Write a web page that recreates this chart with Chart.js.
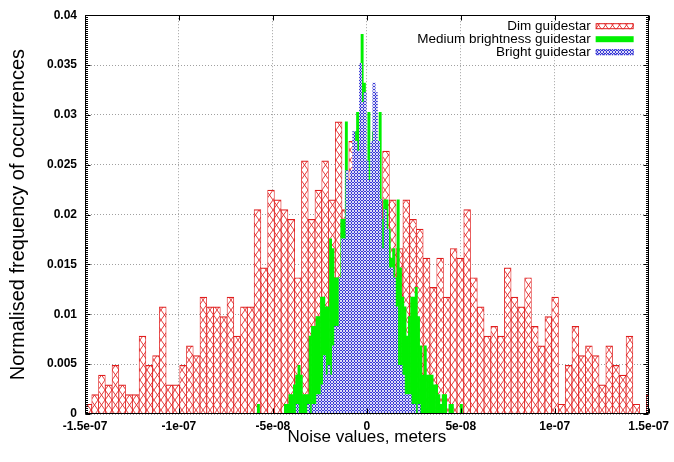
<!DOCTYPE html>
<html>
<head>
<meta charset="utf-8">
<script src="https://cdn.jsdelivr.net/npm/chart.js@4/dist/chart.umd.min.js"></script>
<style>
  html, body { margin: 0; padding: 0; background: #fff; }
</style>
</head>
<body>
<canvas id="noiseChart" width="674" height="462"></canvas>
<script>
// Histogram bins: first bin edge and bin width, in metres
const dimBinStart = -1.5e-7;
const dimBinWidth = 3.6e-9;
const mediumBinStart = -5.83e-8;
const mediumBinWidth = 1.2e-9;
const brightBinStart = -3.757e-8;
const brightBinWidth = 1.2e-9;

// Normalised frequency per bin
const dimFreq = [
  0.00098, 0.00195, 0.00391, 0.00293, 0.00488, 0.00293, 0.00195, 0.00195, 0.00781, 0.00488,
  0.00586, 0.01074, 0.00293, 0.00293, 0.00488, 0.00684, 0.00586, 0.01172, 0.01074, 0.01074,
  0.00977, 0.01172, 0.00781, 0.01074, 0.01074, 0.02051, 0.01465, 0.02246, 0.02148, 0.02051,
  0.01953, 0.01367, 0.02539, 0.01953, 0.02246, 0.02539, 0.02148, 0.0293, 0.02051, 0.02734,
  0.02148, 0.02441, 0.02051, 0.02148, 0.02637, 0.02148, 0.0166, 0.02148, 0.01953, 0.01855,
  0.01563, 0.0127, 0.01563, 0.01172, 0.0166, 0.01563, 0.02051, 0.01367, 0.01074, 0.00781,
  0.00879, 0.00781, 0.01465, 0.01172, 0.01074, 0.01367, 0.00879, 0.00684, 0.00977, 0.01172,
  0.00098, 0.00488, 0.00879, 0.00586, 0.00684, 0.00586, 0.00293, 0.00684, 0.00488, 0.00391,
  0.00781, 0.00098, 0, 0.00195
];
const mediumFreq = [
  0.00098, 0, 0, 0, 0, 0, 0, 0, 0, 0,
  0, 0, 0.00098, 0.00098, 0.00195, 0.00195, 0.00293, 0.00391, 0.00488, 0.00391,
  0.00195, 0.00195, 0.00195, 0.00781, 0.00879, 0.00879, 0.00977, 0.00977, 0.01172, 0.01172,
  0.01074, 0.01074, 0.01758, 0.0166, 0.01367, 0.01367, 0.01367, 0.01953, 0.01953, 0.0293,
  0.0166, 0.02051, 0.02246, 0.02832, 0.03027, 0.03027, 0.03809, 0.0332, 0.02539, 0.03027,
  0.02344, 0.02832, 0.02148, 0.02344, 0.03027, 0.01953, 0.02148, 0.02148, 0.01855, 0.01563,
  0.0166, 0.01367, 0.02148, 0.01465, 0.01172, 0.01074, 0.00781, 0.00977, 0.01172, 0.01172,
  0.0127, 0.00977, 0.00684, 0.00391, 0.00684, 0.00391, 0.00391, 0.00391, 0.00293, 0.00293,
  0.00195, 0.00098, 0.00195, 0.00195, 0, 0.00098, 0.00098, 0, 0, 0,
  0.00098, 0
];
const brightFreq = [
  0.00098, 0, 0, 0, 0, 0.00098, 0, 0.00098, 0.00098, 0.00195,
  0.00195, 0.00293, 0.00586, 0.00391, 0.00488, 0.00391, 0.00684, 0.00879, 0.00879, 0.01367,
  0.01758, 0.01758, 0.02441, 0.02344, 0.02441, 0.02832, 0.02734, 0.02637, 0.03516, 0.03125,
  0.03223, 0.02539, 0.02344, 0.02734, 0.0332, 0.03223, 0.02734, 0.02148, 0.0166, 0.02051,
  0.01855, 0.01465, 0.01465, 0.01367, 0.01074, 0.00488, 0.00488, 0.00391, 0.00195, 0.00195,
  0.00195, 0.00098, 0.00098, 0, 0.00098
];

const seriesLabels = ['Dim guidestar', 'Medium brightness guidestar', 'Bright guidestar'];
const xTicks = [-1.5e-7, -1e-7, -5e-8, 0, 5e-8, 1e-7, 1.5e-7];
const xTickLabels = ['-1.5e-07', '-1e-07', '-5e-08', '0', '5e-08', '1e-07', '1.5e-07'];
const yTicks = [0, 0.005, 0.01, 0.015, 0.02, 0.025, 0.03, 0.035, 0.04];
const yTickLabels = ['0', '0.005', '0.01', '0.015', '0.02', '0.025', '0.03', '0.035', '0.04'];

const X_MIN = -1.5e-7, X_MAX = 1.5e-7;
const Y_MIN = 0, Y_MAX = 0.04;
const FONT = '"Liberation Sans", Arial, Helvetica, sans-serif';

// bar centres from bin edges
function binPoints(start, width, freq) {
  return freq.map((f, i) => ({ x: start + (i + 0.5) * width, y: f }));
}

// red cross-hatch fill
function hatchPattern() {
  const c = document.createElement('canvas');
  c.width = 7; c.height = 10;
  const g = c.getContext('2d');
  g.fillStyle = '#fff';
  g.fillRect(0, 0, 7, 10);
  g.strokeStyle = 'rgba(226,40,40,0.9)';
  g.lineWidth = 1;
  g.beginPath();
  g.moveTo(0, 0); g.lineTo(7, 10);
  g.moveTo(7, 0); g.lineTo(0, 10);
  g.stroke();
  return g.createPattern(c, 'repeat');
}

// blue dotted fill
function dotPattern() {
  const c = document.createElement('canvas');
  c.width = 3; c.height = 3;
  const g = c.getContext('2d');
  g.fillStyle = '#dcdcf6';
  g.fillRect(0, 0, 3, 3);
  g.fillStyle = '#3838d6';
  g.fillRect(0, 0, 1, 2);
  g.fillRect(1, 2, 2, 1);
  return g.createPattern(c, 'repeat');
}

const hatch = hatchPattern();
const dots = dotPattern();

// border box with inward tics, drawn over the bars
const framePlugin = {
  id: 'frame',
  afterDatasetsDraw(chart) {
    const { ctx, chartArea: a, scales } = chart;
    const L = Math.round(a.left) + 0.5, R = Math.round(a.right) - 0.5;
    const T = Math.round(a.top) + 0.5, B = Math.round(a.bottom) - 0.5;
    ctx.save();
    ctx.strokeStyle = '#000';
    ctx.lineWidth = 1;
    ctx.beginPath();
    ctx.rect(L, T, R - L, B - T);
    xTicks.forEach(v => {
      const px = Math.round(scales.x.getPixelForValue(v)) + 0.5;
      ctx.moveTo(px, B); ctx.lineTo(px, B - 5);
      ctx.moveTo(px, T); ctx.lineTo(px, T + 5);
    });
    for (let i = 0; i <= 200; i++) {
      const py = Math.round(scales.y.getPixelForValue(i * 0.0002)) + 0.5;
      const len = i % 25 === 0 ? 5 : 2.5;
      ctx.moveTo(L, py); ctx.lineTo(L + len, py);
      ctx.moveTo(R, py); ctx.lineTo(R - len, py);
    }
    ctx.stroke();
    ctx.restore();
  }
};

// key in the top right corner: label, then sample box
const keyPlugin = {
  id: 'key',
  afterDraw(chart) {
    const { ctx, chartArea: a } = chart;
    const boxW = 38, boxH = 6;
    const boxX = a.right - 15 - boxW;
    ctx.save();
    ctx.font = '13.5px ' + FONT;
    ctx.textAlign = 'right';
    ctx.textBaseline = 'middle';
    chart.data.datasets.forEach((ds, i) => {
      const cy = a.top + 11 + i * 13;
      ctx.fillStyle = '#000';
      ctx.fillText(ds.label, boxX - 5, cy);
      ctx.fillStyle = ds.backgroundColor;
      ctx.fillRect(boxX, cy - boxH / 2, boxW, boxH);
      if (ds.keyBorder) {
        ctx.strokeStyle = ds.borderColor;
        ctx.lineWidth = 1;
        ctx.setLineDash(ds.keyBorder);
        ctx.strokeRect(boxX + 0.5, cy - boxH / 2 + 0.5, boxW - 1, boxH - 1);
        ctx.setLineDash([]);
      }
    });
    ctx.restore();
  }
};

const tickFont = { family: FONT, size: 12, weight: 'bold' };

function hiddenX() {
  return { type: 'linear', display: false, min: X_MIN, max: X_MAX, offset: false };
}

// each series sits on its own x scale so bar widths follow its own bin size
const barDefaults = { barPercentage: 1, categoryPercentage: 1, grouped: false };

new Chart(document.getElementById('noiseChart'), {
  type: 'bar',
  data: {
    datasets: [
      Object.assign({
        label: seriesLabels[0],
        data: binPoints(dimBinStart, dimBinWidth, dimFreq),
        xAxisID: 'x',
        backgroundColor: hatch,
        borderColor: 'rgb(224,30,30)',
        borderWidth: { top: 1.2, left: 0.8, right: 0.8, bottom: 0 },
        keyBorder: [],
        order: 3
      }, barDefaults),
      Object.assign({
        label: seriesLabels[1],
        data: binPoints(mediumBinStart, mediumBinWidth, mediumFreq),
        xAxisID: 'xMedium',
        backgroundColor: '#00f000',
        borderWidth: 0,
        order: 2
      }, barDefaults),
      Object.assign({
        label: seriesLabels[2],
        data: binPoints(brightBinStart, brightBinWidth, brightFreq),
        xAxisID: 'xBright',
        backgroundColor: dots,
        borderColor: 'rgb(40,40,210)',
        borderWidth: 0,
        keyBorder: [1, 1],
        order: 1
      }, barDefaults)
    ]
  },
  options: {
    responsive: false,
    animation: false,
    layout: { padding: { top: 12, right: 22, left: 0, bottom: 0 } },
    plugins: { legend: { display: false }, tooltip: { enabled: false } },
    scales: {
      x: {
        type: 'linear',
        position: 'bottom',
        min: X_MIN,
        max: X_MAX,
        offset: false,
        afterBuildTicks: s => { s.ticks = xTicks.map(v => ({ value: v })); },
        afterFit: s => { s.height = 48; },
        ticks: {
          callback: (v, i) => xTickLabels[i],
          font: tickFont,
          color: '#000',
          padding: 5,
          maxRotation: 0,
          autoSkip: false
        },
        grid: { color: '#a0a0a0', offset: false, drawTicks: false },
        border: { display: false, dash: [1, 2] },
        title: {
          display: true,
          text: 'Noise values, meters',
          color: '#000',
          font: { family: FONT, size: 17 },
          padding: { top: 0, bottom: 14 }
        }
      },
      xMedium: hiddenX(),
      xBright: hiddenX(),
      y: {
        type: 'linear',
        min: Y_MIN,
        max: Y_MAX,
        afterBuildTicks: s => { s.ticks = yTicks.map(v => ({ value: v })); },
        afterFit: s => { s.width = 85; },
        ticks: {
          callback: (v, i) => yTickLabels[i],
          font: tickFont,
          color: '#000',
          padding: 8
        },
        grid: { color: '#a0a0a0', drawTicks: false },
        border: { display: false, dash: [1, 2] },
        title: {
          display: true,
          text: 'Normalised frequency of occurrences',
          color: '#000',
          font: { family: FONT, size: 20 },
          padding: { top: 6, bottom: 0 }
        }
      }
    }
  },
  plugins: [framePlugin, keyPlugin]
});
</script>
</body>
</html>
